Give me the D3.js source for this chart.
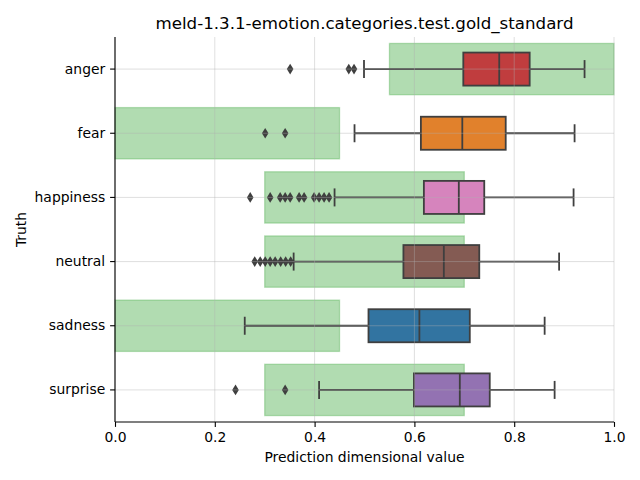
<!DOCTYPE html>
<html>
<head>
<meta charset="utf-8">
<script src="https://cdn.jsdelivr.net/npm/d3@7"></script>
<style>
  body { margin: 0; background: #fff; }
  svg { font-family: "DejaVu Sans", sans-serif; }
</style>
</head>
<body>
<svg id="chart" width="640" height="480"></svg>
<script>
const categories = ["anger", "fear", "happiness", "neutral", "sadness", "surprise"];
const boxColors = ["#c03d3e", "#e1812c", "#d684bd", "#845b53", "#3274a1", "#9372b2"];
const whiskerLow = [0.499, 0.480, 0.440, 0.358, 0.260, 0.409];
const q1 = [0.698, 0.613, 0.619, 0.578, 0.508, 0.599];
const median = [0.770, 0.696, 0.689, 0.659, 0.610, 0.691];
const q3 = [0.831, 0.783, 0.740, 0.730, 0.711, 0.751];
const whiskerHigh = [0.941, 0.921, 0.919, 0.890, 0.861, 0.881];
const outliers = [
  [0.351, 0.4685, 0.479],
  [0.301, 0.341],
  [0.271, 0.311, 0.331, 0.341, 0.351, 0.369, 0.379, 0.399, 0.409, 0.419, 0.429],
  [0.280, 0.291, 0.301, 0.311, 0.321, 0.332, 0.342, 0.352],
  [],
  [0.2415, 0.341]
];
const goldLow = [0.55, 0.0, 0.3, 0.3, 0.0, 0.3];
const goldHigh = [1.0, 0.45, 0.7, 0.7, 0.45, 0.7];
const xTicks = [0.0, 0.2, 0.4, 0.6, 0.8, 1.0];

const svg = d3.select("#chart");
const margin = {left: 115, top: 37, right: 26, bottom: 58};
const W = 640 - margin.left - margin.right;
const H = 480 - margin.top - margin.bottom;
const g = svg.append("g").attr("transform", `translate(${margin.left},${margin.top})`);

const x = d3.scaleLinear().domain([0, 1]).range([0, W]);
const y = d3.scaleBand().domain(categories).range([0, H]).padding(0);
const bw = y.bandwidth();
const cy = c => y(c) + bw / 2;

const rows = categories.map((c, i) => ({
  c, color: boxColors[i], wl: whiskerLow[i], q1: q1[i], med: median[i], q3: q3[i],
  wh: whiskerHigh[i], out: outliers[i], gl: goldLow[i], gh: goldHigh[i]
}));

// gold standard spans
const goldH = bw * 0.8;
g.selectAll("rect.gold").data(rows).enter().append("rect")
  .attr("class", "gold")
  .attr("x", d => x(d.gl)).attr("width", d => x(d.gh) - x(d.gl))
  .attr("y", d => cy(d.c) - goldH / 2).attr("height", goldH)
  .attr("fill", "#2ca02c").attr("fill-opacity", 0.37)
  .attr("stroke", "#2ca02c").attr("stroke-opacity", 0.3).attr("stroke-width", 1.3);

const boxH = bw * 0.515;
const capH = 18;
const lineColor = "#3f3f3f";
const lw = 1.8;

const rg = g.selectAll("g.row").data(rows).enter().append("g").attr("class", "row");
// whiskers
rg.append("line").attr("x1", d => x(d.wl)).attr("x2", d => x(d.q1))
  .attr("y1", d => cy(d.c)).attr("y2", d => cy(d.c))
  .attr("stroke", lineColor).attr("stroke-width", lw);
rg.append("line").attr("x1", d => x(d.q3)).attr("x2", d => x(d.wh))
  .attr("y1", d => cy(d.c)).attr("y2", d => cy(d.c))
  .attr("stroke", lineColor).attr("stroke-width", lw);
// caps
rg.append("line").attr("x1", d => x(d.wl)).attr("x2", d => x(d.wl))
  .attr("y1", d => cy(d.c) - capH / 2).attr("y2", d => cy(d.c) + capH / 2)
  .attr("stroke", lineColor).attr("stroke-width", lw);
rg.append("line").attr("x1", d => x(d.wh)).attr("x2", d => x(d.wh))
  .attr("y1", d => cy(d.c) - capH / 2).attr("y2", d => cy(d.c) + capH / 2)
  .attr("stroke", lineColor).attr("stroke-width", lw);
// box
rg.append("rect").attr("x", d => x(d.q1)).attr("width", d => x(d.q3) - x(d.q1))
  .attr("y", d => cy(d.c) - boxH / 2).attr("height", boxH)
  .attr("fill", d => d.color).attr("stroke", lineColor).attr("stroke-width", lw);
// median
rg.append("line").attr("x1", d => x(d.med)).attr("x2", d => x(d.med))
  .attr("y1", d => cy(d.c) - boxH / 2).attr("y2", d => cy(d.c) + boxH / 2)
  .attr("stroke", lineColor).attr("stroke-width", lw);
// outliers (thin diamonds)
rg.each(function(d) {
  d3.select(this).selectAll("path.flier").data(d.out).enter().append("path")
    .attr("class", "flier")
    .attr("d", v => `M${x(v)},${cy(d.c) - 5.3}L${x(v) + 3.3},${cy(d.c)}L${x(v)},${cy(d.c) + 5.3}L${x(v) - 3.3},${cy(d.c)}Z`)
    .attr("fill", lineColor);
});

// grid on top
g.selectAll("line.vgrid").data(xTicks).enter().append("line")
  .attr("x1", d => x(d)).attr("x2", d => x(d)).attr("y1", 0).attr("y2", H)
  .attr("stroke", "#b0b0b0").attr("stroke-opacity", 0.5).attr("stroke-width", 0.8);
g.selectAll("line.hgrid").data(categories).enter().append("line")
  .attr("x1", 0).attr("x2", W).attr("y1", d => cy(d)).attr("y2", d => cy(d))
  .attr("stroke", "#b0b0b0").attr("stroke-opacity", 0.5).attr("stroke-width", 0.8);

// axes
const xAxis = d3.axisBottom(x).tickValues(xTicks).tickFormat(d3.format(".1f")).tickSize(4.9).tickPadding(4.9);
const xg = g.append("g").attr("transform", `translate(0,${H})`).call(xAxis);
const yAxis = d3.axisLeft(y).tickSize(4.9).tickPadding(4.9);
const yg = g.append("g").call(yAxis);
[xg, yg].forEach(a => {
  a.selectAll("text").attr("font-family", "DejaVu Sans").attr("font-size", "13.9px").attr("fill", "#000");
  a.selectAll("line").attr("stroke", "#000").attr("stroke-width", 1.1);
  a.select(".domain").attr("stroke", "#000").attr("stroke-width", 1.1);
});
xg.select(".domain").attr("d", `M0,0H${W}`);
yg.select(".domain").attr("d", `M0,0V${H}`);

// labels
svg.append("text").attr("x", margin.left + W / 2).attr("y", 29)
  .attr("text-anchor", "middle").attr("font-size", "16.67px").text("meld-1.3.1-emotion.categories.test.gold_standard");
svg.append("text").attr("x", margin.left + W / 2).attr("y", 462)
  .attr("text-anchor", "middle").attr("font-size", "13.9px").text("Prediction dimensional value");
svg.append("text").attr("transform", `translate(26,${margin.top + H / 2}) rotate(-90)`)
  .attr("text-anchor", "middle").attr("font-size", "13.9px").text("Truth");
</script>
</body>
</html>
